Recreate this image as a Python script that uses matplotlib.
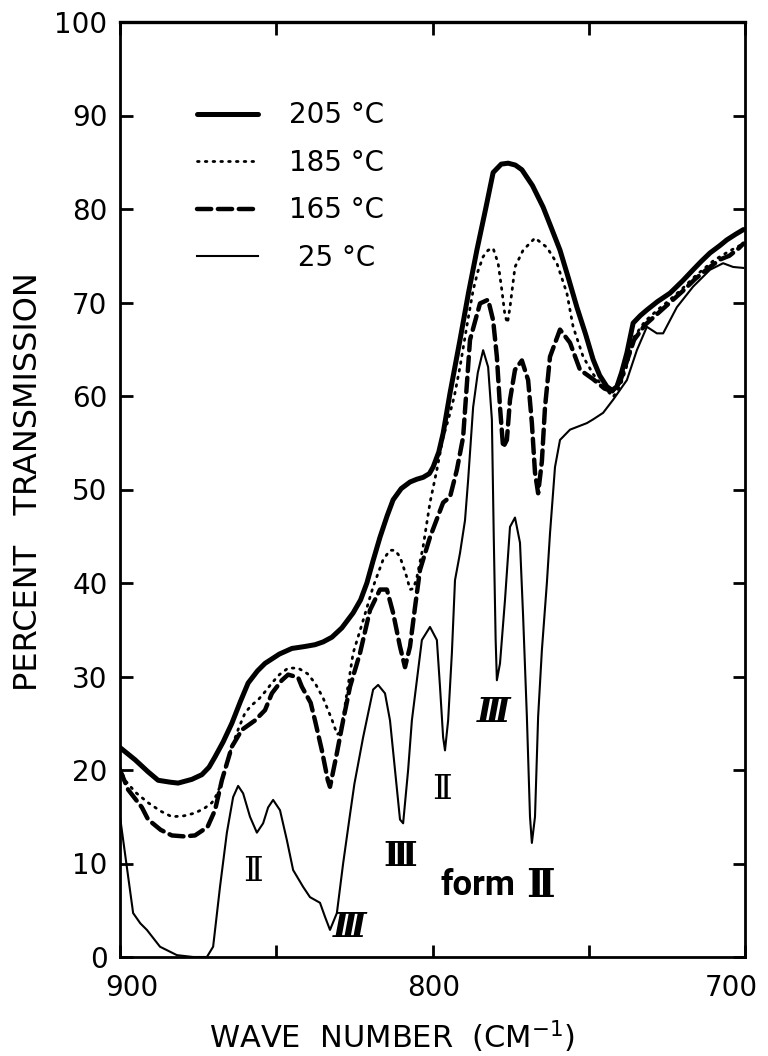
import matplotlib
matplotlib.use("Agg")
import matplotlib.pyplot as plt
from matplotlib.ticker import FixedLocator
from matplotlib.transforms import ScaledTranslation

# ---- spectra: wave number (cm^-1) and percent transmission ----
wn_205 = [900, 895.2, 891, 887.8, 884, 881.4, 877, 873.8, 871.5, 869.6, 867, 864.2,
          861.5, 859.0, 856, 853.6, 849, 845.0, 841, 837.6, 835, 832.2, 829, 825.4,
          823, 821.0, 819, 816.8, 814.5, 812.6, 810, 807.2, 805, 803.0, 801, 799.8,
          798, 796.6, 794.4, 791.2, 788.5, 785.8, 783, 780.6, 778, 775.8, 773.5,
          771.4, 768, 764.6, 762, 759.2, 756.5, 753.8, 751, 748.6, 746.5, 744.2,
          742.5, 741.0, 739.5, 737.8, 735.8, 733.5, 731.4, 728, 724.0, 720, 716.6,
          714, 711.2, 708, 705.8, 703, 700.5]
t_205 = [22.4, 21.1, 19.8, 18.9, 18.7, 18.6, 19.0, 19.5, 20.3, 21.4, 23.0, 25.0,
         27.3, 29.3, 30.6, 31.4, 32.4, 33.0, 33.2, 33.4, 33.7, 34.2, 35.2, 36.8,
         38.2, 40.0, 42.4, 44.9, 47.2, 48.9, 50.1, 50.8, 51.1, 51.3, 51.7, 52.4,
         54.0, 56.0, 60.3, 66.0, 71.0, 75.6, 80.0, 83.9, 84.8, 84.9, 84.7,
         84.2, 82.5, 80.2, 78.0, 75.6, 72.6, 69.5, 66.6, 63.9, 62.2, 61.0,
         60.6, 61.0, 62.5, 64.6, 67.8, 68.6, 69.2, 70.1, 71.0, 72.3, 73.5,
         74.4, 75.3, 76.1, 76.7, 77.3, 77.8]

wn_185 = [900, 898.4, 895, 891.0, 887, 883.4, 879.5, 876.0, 873, 870.6, 868.8, 867.4,
          866, 864.2, 862, 860.0, 858, 855.8, 853.5, 851.4, 849, 846.2, 843.0, 840,
          837.6, 835, 832.2, 830.5, 829.6, 828.5, 827.4, 825.4, 822.2, 819.0, 815.8,
          813.6, 812, 810.4, 808.2, 807.2, 806.1, 805.0, 803.0, 800.8, 798.6, 796.6,
          795.0, 793, 791.2, 789, 787.0, 785.5, 783.8, 782.2, 780.6, 779.0, 777.8,
          776.8, 776.0, 775.2, 773.6, 771.0, 767.2, 763.4, 760.2, 757.0, 755.0,
          751.8, 748.5, 746.4, 742.2, 740, 738, 735.5, 732, 728, 724, 720, 716,
          710, 705, 700.5]
t_185 = [20.3, 18.9, 17.6, 16.5, 15.6, 15.0, 15.1, 15.4, 15.9, 16.5, 17.5, 18.9,
         20.6, 22.5, 24.5, 26.1, 26.9, 27.5, 28.4, 29.3, 30.2, 30.9, 30.9, 30.3,
         29.3, 27.7, 25.4, 23.8, 24.0, 25.8, 28.2, 32.5, 36.0, 39.6, 42.5,
         43.5, 43.5, 42.8, 40.6, 39.3, 39.4, 40.6, 43.9, 48.6, 52.1, 55.6,
         57.4, 60.0, 63.1, 67.5, 71.3, 73.3, 74.9, 75.6, 75.8, 74.2, 71.3,
         68.6, 67.8, 69.5, 73.8, 75.6, 76.9, 75.9, 74.2, 71.0, 67.4,
         64.2, 62.3, 61.4, 59.9, 61.0, 63.0, 66.3, 68.0, 69.2, 70.3, 71.5, 72.8,
         74.5, 75.5, 76.3]

wn_165 = [900, 897.4, 893, 891.0, 887, 883.4, 879.5, 876.0, 872.0, 869.6, 867.4, 864.2,
          861.0, 856.8, 853.6, 851.4, 848.2, 846.2, 843, 841.8, 839, 837.6, 835.4,
          833.5, 832.8, 830.6, 828.6, 826.4, 823.2, 820.0, 816.8, 814.6, 812.6,
          810.4, 808.8, 807.2, 805.6, 804.0, 800.8, 796.6, 794.4, 792.2, 790.2,
          788, 784.8, 782.2, 780.6, 779.4, 778.4, 777.4, 776.2, 775.2, 773.6,
          771.4, 769.4, 768.2, 767.2, 766.2, 765, 764.0, 762.4, 759.2, 756.0,
          752.8, 748.6, 745, 742.5, 740, 738, 735.5, 732, 728, 724, 720, 716,
          712, 708, 705, 702, 700.5]
t_165 = [20.0, 17.9, 16.0, 14.7, 13.6, 13.0, 12.9, 13.0, 13.9, 15.7, 18.9, 22.5,
         24.3, 25.3, 26.4, 28.2, 29.6, 30.2, 29.9, 28.9, 27.2, 25.3, 22.1,
         18.9, 18.2, 21.8, 25.3, 28.9, 32.5, 37.1, 39.3, 39.3, 36.8,
         33.2, 31.0, 33.2, 37.4, 41.4, 44.9, 48.6, 49.2, 52.1, 55.6,
         66.0, 69.9, 70.3, 68.1, 64.2, 58.8, 54.5, 55.3, 59.6, 62.8,
         63.8, 61.7, 57.1, 51.8, 49.6, 53.0, 58.8, 64.2, 67.1, 65.7,
         62.8, 61.8, 60.8, 60.5, 61.5, 63.5, 66.0, 67.6, 68.8, 70.0, 71.2, 72.5,
         73.6, 74.6, 75.0, 75.8, 76.3]

wn_25 = [900, 897.8, 895.8, 893.5, 891.4, 887.2, 881.8, 876.6, 872.2, 870.2, 868.0,
         865.8, 863.8, 862.2, 860.6, 858.4, 856.2, 854.2, 852.6, 851.0, 848.8, 846.6,
         844.6, 841.4, 839.2, 836.0, 834.4, 832.8, 830.6, 828.6, 826.5, 825, 822.2,
         819.0, 817.4, 815.2, 813.6, 812.0, 810.4, 809.4, 807.8, 806.6, 805.0,
         803.4, 800.8, 798.6, 797.6, 796.6, 796.0, 795.0, 793.8, 792.8, 791.2,
         789.6, 788.6, 787.0, 785.5, 783.8, 782.2, 781.0, 780.4, 779.8, 779.4,
         778.4, 776.8, 775.2, 773.6, 772.0, 771.0, 769.8, 768.8, 768.2, 767.2,
         766.2, 765.0, 763.4, 762.4, 760.8, 759.2, 756.0, 750.6, 748.6, 745.4,
         742.2, 737.8, 734.6, 731.4, 728.2, 726.2, 724.0, 721.8, 716.6, 711.2,
         707.0, 703.8, 700.6]
t_25 = [15.0, 9.6, 4.7, 3.6, 2.9, 1.1, 0.2, 0.0, 0.0, 1.1, 7.5,
        13.3, 17.1, 18.3, 17.5, 15.0, 13.3, 14.3, 16.0, 16.8, 15.7, 12.5,
        9.3, 7.5, 6.4, 5.8, 4.3, 2.9, 4.7, 10.0, 15.0, 18.5, 23.5,
        28.6, 29.1, 28.2, 25.3, 20.0, 14.7, 14.3, 20.0, 25.3, 29.6,
        33.9, 35.3, 33.9, 28.9, 23.5, 22.1, 25.3, 32.5, 40.3, 43.2,
        46.7, 51.0, 58.8, 62.5, 64.9, 63.1, 57.5, 45.0, 34.0, 29.6,
        31.4, 38.2, 46.0, 47.0, 44.3, 36.4, 25.7, 15.0, 12.2, 15.0,
        25.7, 32.8, 40.0, 45.3, 52.4, 55.3, 56.4, 57.1, 57.5, 58.2,
        59.6, 61.7, 64.9, 67.4, 66.7, 66.7, 68.1, 69.5, 71.7, 73.5,
        74.2, 73.8, 73.7]

series_labels = ["205 °C", "185 °C", "165 °C", " 25 °C"]
x_ticks = [900, 850, 800, 750, 700]
x_tick_labels = ["900", "", "800", "", "700"]
y_ticks = list(range(0, 101, 10))
y_tick_labels = ["0", "10", "20", "30", "40", "50", "60", "70", "80", "90", "100"]

# band assignments: (text, wave number, transmission, slant, weight)
band_labels = [("Ⅱ", 857.4, 9.1, "normal", "normal"),
               ("Ⅲ", 826.4, 3.2, "italic", "bold"),
               ("Ⅲ", 810.4, 10.7, "normal", "bold"),
               ("Ⅱ", 797.0, 17.9, "normal", "normal"),
               ("Ⅲ", 780.6, 26.1, "italic", "bold")]
form_word = ("form", 785.6, 7.6)
form_numeral = ("Ⅱ", 765.6, 7.6)

fig = plt.figure(figsize=(7.68, 10.56), dpi=100)
ax = fig.add_axes([120 / 768, 1 - 957 / 1056, 625 / 768, 935 / 1056])

ax.plot(wn_205, t_205, color="black", lw=3.6, solid_capstyle="round",
        solid_joinstyle="round", label=series_labels[0])
ax.plot(wn_185, t_185, color="black", lw=2.0, linestyle=(0, (0.6, 2.2)),
        dash_capstyle="round", label=series_labels[1])
ax.plot(wn_165, t_165, color="black", lw=3.2, linestyle=(0, (3.2, 1.5)),
        dash_capstyle="round", label=series_labels[2])
ax.plot(wn_25, t_25, color="black", lw=1.5, solid_joinstyle="round",
        label=series_labels[3])

ax.set_xlim(900, 700)
ax.set_ylim(0, 100)

ax.xaxis.set_major_locator(FixedLocator(x_ticks))
ax.set_xticklabels(x_tick_labels)
ax.yaxis.set_major_locator(FixedLocator(y_ticks))
ax.set_yticklabels(y_tick_labels)
ax.tick_params(axis="both", which="major", direction="in", length=9, width=2,
               top=True, right=True, labelsize=20, colors="black")
ax.tick_params(axis="x", pad=12)
ax.tick_params(axis="y", pad=9)

# nudge the end labels of the wave-number scale inward
label_shift_pt = [8.5, 0, 0.5, 0, -9.5]
for lbl, dx in zip(ax.get_xticklabels(), label_shift_pt):
    lbl.set_transform(lbl.get_transform() + ScaledTranslation(dx / 72, 0, fig.dpi_scale_trans))

for side, sp in ax.spines.items():
    sp.set_linewidth(2.4 if side == "top" else 2.0)
    sp.set_color("black")

ax.set_ylabel("PERCENT   TRANSMISSION", fontsize=23)
ax.yaxis.set_label_coords(-0.122, 0.508)
ax.set_xlabel("WAVE  NUMBER  (CM$^{-1}$)", fontsize=22)
ax.xaxis.set_label_coords(0.435, -0.066)

leg = ax.legend(loc="upper left", bbox_to_anchor=(0.123, 0.915), frameon=False,
                fontsize=20, handlelength=2.2, handletextpad=1.1,
                labelspacing=0.7, borderpad=0, borderaxespad=0)

for txt, x, y, style, weight in band_labels:
    ax.text(x, y, txt, ha="center", va="center", fontsize=24, fontweight=weight,
            style=style, family=["DejaVu Serif", "DejaVu Sans"])
ax.text(form_word[1], form_word[2], form_word[0], ha="center", va="center",
        fontsize=25, fontweight="bold", family=["Roboto", "DejaVu Sans"])
ax.text(form_numeral[1], form_numeral[2], form_numeral[0], ha="center", va="center",
        fontsize=28, fontweight="bold", family=["DejaVu Serif", "DejaVu Sans"])

fig.savefig("out.png", dpi=100, facecolor="white")
